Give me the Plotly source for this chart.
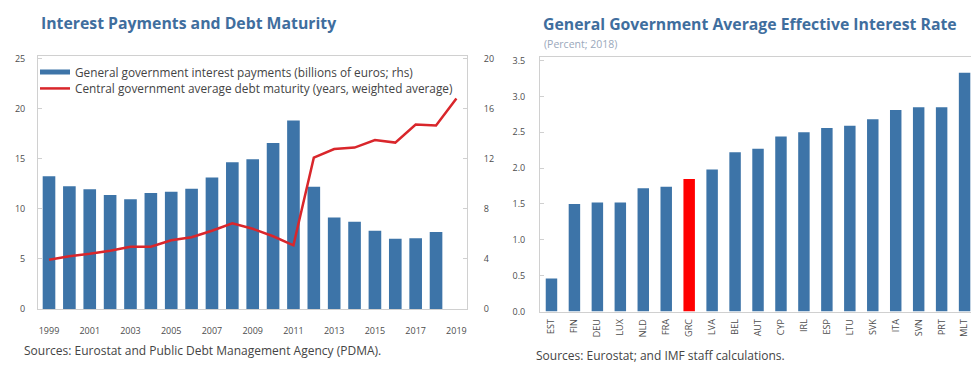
import plotly.graph_objects as go

# ---- Left panel: interest payments (bars, rhs) and debt maturity (line, lhs)
bar_years = list(range(1999, 2019))
interest_payments = [10.6, 9.8, 9.55, 9.1, 8.75, 9.25, 9.35, 9.6, 10.5, 11.7,
                     11.95, 13.25, 15.05, 9.75, 7.3, 6.95, 6.25, 5.6, 5.65, 6.15]
line_years = list(range(1999, 2020))
debt_maturity = [4.9, 5.25, 5.5, 5.8, 6.2, 6.2, 6.85, 7.15, 7.8, 8.55,
                 8.0, 7.25, 6.35, 15.1, 15.95, 16.1, 16.85, 16.6, 18.4, 18.3, 21.0]
left_year_ticks = list(range(1999, 2020, 2))

# ---- Right panel: effective interest rate by country
countries = ["EST", "FIN", "DEU", "LUX", "NLD", "FRA", "GRC", "LVA", "BEL", "AUT",
             "CYP", "IRL", "ESP", "LTU", "SVK", "ITA", "SVN", "PRT", "MLT"]
effective_rate = [0.46, 1.50, 1.52, 1.52, 1.72, 1.74, 1.85, 1.98, 2.22, 2.27,
                  2.44, 2.50, 2.56, 2.59, 2.68, 2.81, 2.85, 2.85, 3.33]
highlight = "GRC"

BLUE = "#3d74a8"
RED = "#ff0000"
LINE_RED = "#d9262b"
TITLE_BLUE = "#3f6e9e"
AXIS_GREY = "#d0d0d0"
TEXT_GREY = "#4d4d4d"
FONT = "Open Sans"
W, H = 971, 367


def px_x(x):
    return x / W


def px_y(y):
    return 1 - y / H


fig = go.Figure()

# bars sit on the primary (right-hand) axis so the maturity line draws above them
fig.add_trace(go.Bar(
    x=bar_years, y=interest_payments, yaxis="y", xaxis="x",
    marker=dict(color=BLUE, line=dict(width=0)), width=0.62,
    showlegend=False, name="General government interest payments (billions of euros; rhs)",
))
# legend proxy with a wide, flat swatch for the bars
fig.add_trace(go.Scatter(
    x=[None], y=[None], xaxis="x", yaxis="y", mode="lines",
    line=dict(color=BLUE, width=5), legend="legend",
    name="General government interest payments (billions of euros; rhs)",
))
fig.add_trace(go.Scatter(
    x=line_years, y=debt_maturity, xaxis="x", yaxis="y2", mode="lines",
    line=dict(color=LINE_RED, width=2.5), legend="legend2",
    name="Central government average debt maturity (years, weighted average)",
))

fig.add_trace(go.Bar(
    x=countries, y=effective_rate, xaxis="x2", yaxis="y3",
    marker=dict(color=[RED if c == highlight else BLUE for c in countries], line=dict(width=0)),
    width=0.5, showlegend=False,
))

tick_font = dict(family=FONT, size=9, color=TEXT_GREY)
legend_style = dict(
    xanchor="left", yanchor="middle", bgcolor="rgba(0,0,0,0)", borderwidth=0,
    font=dict(family=FONT, size=11.8, color="#444444"), itemwidth=30,
)

fig.update_layout(
    width=W, height=H,
    margin=dict(l=0, r=0, t=0, b=0),
    paper_bgcolor="white", plot_bgcolor="white",
    font=dict(family=FONT, color=TEXT_GREY),
    barmode="overlay",
    xaxis=dict(
        domain=[px_x(38), px_x(467)], range=[1998.46, 2019.52],
        tickvals=left_year_ticks, tickfont=tick_font, ticklabelstandoff=13,
        showgrid=False, zeroline=False, showline=True, linecolor=AXIS_GREY,
        mirror=True, ticks="", anchor="y",
    ),
    # right-hand axis: interest payments
    yaxis=dict(
        domain=[px_y(313.3), px_y(53)], range=[0, 20.16], side="right",
        tickvals=[0, 4, 8, 12, 16, 20], tickfont=tick_font, ticklabelstandoff=14,
        showgrid=False, zeroline=False, showline=True, linecolor=AXIS_GREY,
        ticks="inside", ticklen=4, tickcolor=AXIS_GREY, anchor="x",
    ),
    # left-hand axis: debt maturity
    yaxis2=dict(
        domain=[px_y(313.3), px_y(53)], range=[0, 25.2],
        tickvals=[0, 5, 10, 15, 20, 25], tickfont=tick_font, ticklabelstandoff=10,
        overlaying="y", side="left", anchor="x",
        showgrid=False, zeroline=False, showline=True, linecolor=AXIS_GREY,
        ticks="inside", ticklen=4, tickcolor=AXIS_GREY,
    ),
    xaxis2=dict(
        domain=[px_x(540), 1.0], range=[-0.5, 18.28],
        type="category", tickangle=-90, tickfont=tick_font, ticklabelstandoff=3,
        showgrid=False, zeroline=False, showline=True, linecolor=AXIS_GREY,
        mirror=True, ticks="", anchor="y3",
    ),
    yaxis3=dict(
        domain=[px_y(316), px_y(53.6)], range=[0, 3.55],
        tickvals=[0, 0.5, 1, 1.5, 2, 2.5, 3, 3.5], tickformat=".1f", tickfont=tick_font,
        ticklabelstandoff=12,
        showgrid=False, zeroline=False, showline=True, linecolor=AXIS_GREY,
        ticks="inside", ticklen=4, tickcolor=AXIS_GREY, anchor="x2",
    ),
    legend=dict(x=px_x(35), y=px_y(69), **legend_style),
    legend2=dict(x=px_x(35), y=px_y(86), **legend_style),
    showlegend=True,
)

annotations = [
    dict(text="<b>Interest Payments and Debt Maturity</b>", x=px_x(39), y=px_y(19),
         font=dict(family=FONT, size=15.8, color=TITLE_BLUE)),
    dict(text="<b>General Government Average Effective Interest Rate</b>", x=px_x(541), y=px_y(19.5),
         font=dict(family=FONT, size=15.8, color=TITLE_BLUE)),
    dict(text="(Percent; 2018)", x=px_x(542), y=px_y(40),
         font=dict(family=FONT, size=10.5, color="#9aa8bb")),
    dict(text="Sources: Eurostat and Public Debt Management Agency (PDMA).", x=px_x(22), y=px_y(356),
         font=dict(family=FONT, size=12, color="#444444")),
    dict(text="Sources: Eurostat; and IMF staff calculations.", x=px_x(534), y=px_y(361),
         font=dict(family=FONT, size=12, color="#444444")),
]
for a in annotations:
    fig.add_annotation(xref="paper", yref="paper", xanchor="left", yanchor="middle",
                       showarrow=False, **a)

fig.write_html("out.html")
